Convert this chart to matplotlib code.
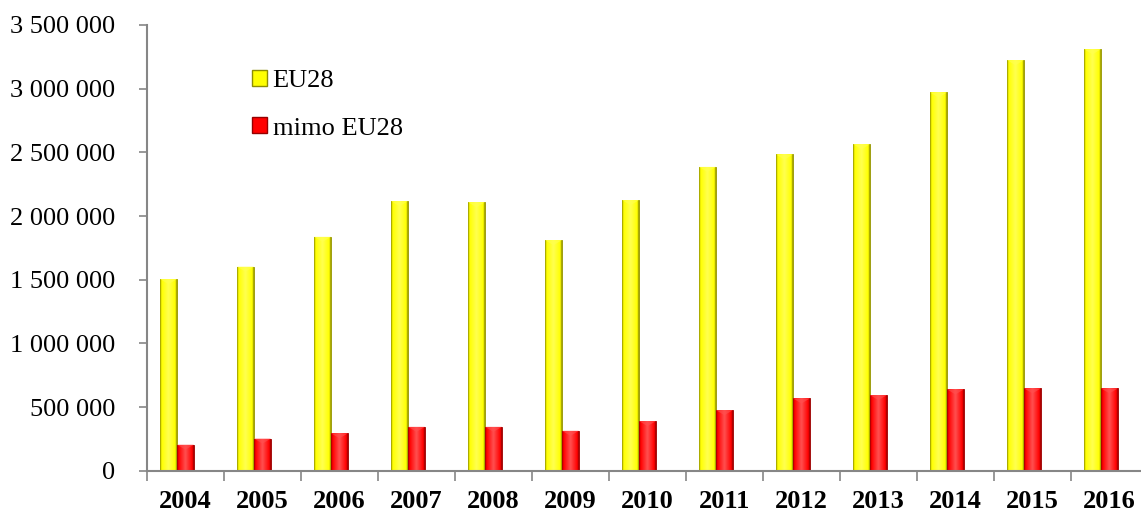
import matplotlib
matplotlib.use('Agg')
import matplotlib.pyplot as plt
import numpy as np
from matplotlib.colors import LinearSegmentedColormap
from matplotlib.patches import Patch, Polygon
from matplotlib.ticker import FuncFormatter

# data
years = ['2004', '2005', '2006', '2007', '2008', '2009', '2010',
         '2011', '2012', '2013', '2014', '2015', '2016']
eu28 = [1505000, 1603000, 1837000, 2117000, 2109000, 1811000, 2125000,
        2386000, 2483000, 2564000, 2970000, 3224000, 3310000]
mimo_eu28 = [205000, 253000, 294000, 345000, 345000, 314000, 390000,
             476000, 568000, 594000, 639000, 647000, 647000]
# third (unlabelled) series, only a tiny value in 2008
ostatni = [0, 0, 0, 0, 6000, 0, 0, 0, 0, 0, 0, 0, 0]

plt.rcParams['font.family'] = ['Liberation Serif', 'DejaVu Serif']

fig = plt.figure(figsize=(11.41, 5.14), dpi=100)
ax = fig.add_axes([0.1288, 0.0842, 0.8773, 0.8672])

x = np.arange(len(years))
w = 0.22
grad = np.linspace(0, 1, 64)[None, :]


def shaded_bars(xpos, vals, light, mid, dark):
    # bars with a bit of bevel shading like the excel original
    bars = ax.bar(xpos, vals, w, color=mid, edgecolor=dark, linewidth=0.6, zorder=2)
    cmap = LinearSegmentedColormap.from_list(
        'bevel', [(0, dark), (0.09, mid), (0.5, light), (0.91, mid), (1, dark)])
    for rect in bars:
        h = rect.get_height()
        if h <= 0:
            continue
        x0 = rect.get_x()
        im = ax.imshow(grad, extent=[x0, x0 + w, 0, h], aspect='auto',
                       cmap=cmap, zorder=2.1, interpolation='bilinear')
        im.set_clip_path(rect)
        d = min(h * 0.5, 40000)
        cap = Polygon([(x0, h), (x0 + w, h), (x0 + w / 2, h - d)], closed=True,
                      facecolor=light, edgecolor='none', alpha=0.6, zorder=2.2)
        ax.add_patch(cap)
    return bars


shaded_bars(x - w, eu28, '#FFFF50', '#FFFF00', '#8E8E00')
shaded_bars(x, mimo_eu28, '#FF5050', '#FF0000', '#950000')
ax.bar(x + w, ostatni, w, color='#7FA04F', zorder=2)

ax.set_xlim(-0.5, len(years) - 0.5)
ax.set_ylim(0, 3500000)

# y achse
ax.set_yticks(np.arange(0, 3500001, 500000))
ax.yaxis.set_major_formatter(FuncFormatter(lambda v, p: f'{v:,.0f}'.replace(',', ' ')))
ax.tick_params(axis='y', length=6, width=1.2, color='#868686', pad=17, labelsize=19)

# x achse: labels in der mitte, striche an den grenzen
ax.set_xticks(x)
ax.set_xticklabels(years, fontweight='bold', fontsize=19)
ax.tick_params(axis='x', which='major', length=0, pad=14)
ax.set_xticks(np.arange(-0.5, len(years), 1), minor=True)
ax.tick_params(axis='x', which='minor', length=7, width=1.2, color='#868686')

for s in ['top', 'right']:
    ax.spines[s].set_visible(False)
for s in ['left', 'bottom']:
    ax.spines[s].set_color('#868686')
    ax.spines[s].set_linewidth(1.5)

handles = [Patch(facecolor='#FFFF00', edgecolor='#8E8E00', label='EU28'),
           Patch(facecolor='#FF0000', edgecolor='#950000', label='mimo EU28')]
fig.legend(handles=handles, loc='upper left', bbox_to_anchor=(252 / 1141, 1 - 70 / 514),
           frameon=False, fontsize=19, handlelength=0.58, handleheight=0.55,
           handletextpad=0.2, labelspacing=0.95, borderpad=0, borderaxespad=0)

fig.savefig('out.png', dpi=100)
